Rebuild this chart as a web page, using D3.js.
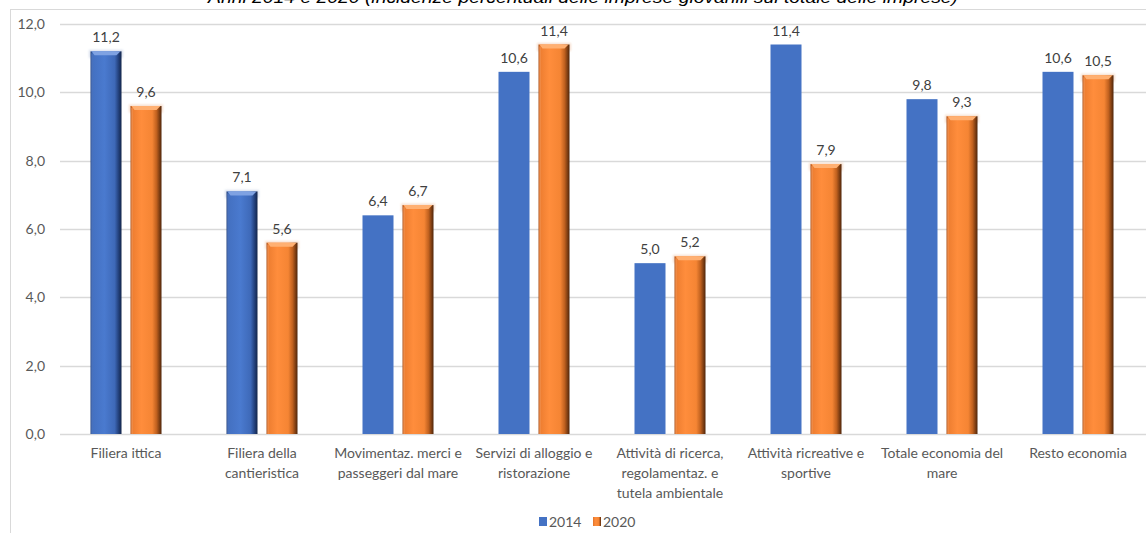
<!DOCTYPE html>
<html>
<head>
<meta charset="utf-8">
<script src="https://cdn.jsdelivr.net/npm/d3@7"></script>
<style>
  html, body { margin: 0; padding: 0; background: #fff; }
  svg { display: block; }
</style>
</head>
<body>
<svg id="chart" width="1146" height="533"></svg>
<script>
// Categories (label lines as shown under each group)
const categories = [
  "Filiera ittica",
  "Filiera della cantieristica",
  "Movimentaz. merci e passeggeri dal mare",
  "Servizi di alloggio e ristorazione",
  "Attività di ricerca, regolamentaz. e tutela ambientale",
  "Attività ricreative e sportive",
  "Totale economia del mare",
  "Resto economia"
];
const categoryLines = [
  ["Filiera ittica"],
  ["Filiera della", "cantieristica"],
  ["Movimentaz. merci e", "passeggeri dal mare"],
  ["Servizi di alloggio e", "ristorazione"],
  ["Attività di ricerca,", "regolamentaz. e", "tutela ambientale"],
  ["Attività ricreative e", "sportive"],
  ["Totale economia del", "mare"],
  ["Resto economia"]
];
const seriesNames = ["2014", "2020"];
const values2014 = [11.2, 7.1, 6.4, 10.6, 5.0, 11.4, 9.8, 10.6];
const values2020 = [9.6, 5.6, 6.7, 11.4, 5.2, 7.9, 9.3, 10.5];
const yTicks = [0, 2, 4, 6, 8, 10, 12];
const titleText = "Anni 2014 e 2020 (incidenze percentuali delle imprese giovanili sul totale delle imprese)";

// Bars in these groups get the bevelled 2014 style
const bevelled2014 = new Set(["Filiera ittica", "Filiera della cantieristica"]);

const svg = d3.select("#chart");
const FONT = "Lato, 'Liberation Sans', sans-serif";
const fmt = v => d3.format(".1f")(v).replace(".", ",");

// Gradients for the bevelled bars
const defs = svg.append("defs");
function hGrad(id, stops) {
  const g = defs.append("linearGradient").attr("id", id)
    .attr("x1", "0%").attr("x2", "100%").attr("y1", "0%").attr("y2", "0%");
  stops.forEach(([o, c]) => g.append("stop").attr("offset", o).attr("stop-color", c));
}
hGrad("gOrange", [["0%", "#a94f18"], ["7%", "#ee7e31"], ["35%", "#ff8d3c"], ["70%", "#f58534"], ["84%", "#c0611f"], ["100%", "#4f250a"]]);
hGrad("gBlue", [["0%", "#22407a"], ["9%", "#4471c2"], ["45%", "#4a7acf"], ["78%", "#3e69b8"], ["90%", "#24427e"], ["100%", "#13254a"]]);

const glow = defs.append("filter").attr("id", "soft").attr("x", "-30%").attr("y", "-30%").attr("width", "160%").attr("height", "160%");
glow.append("feGaussianBlur").attr("stdDeviation", 1.2);

// Chart frame
svg.append("rect")
  .attr("x", 10.5).attr("y", 9.5).attr("width", 1150).attr("height", 540)
  .attr("fill", "none").attr("stroke", "#d9d9d9").attr("stroke-width", 1);

// Title (sits at the top edge)
svg.append("text")
  .attr("x", 583).attr("y", 2.5)
  .attr("text-anchor", "middle")
  .attr("font-family", "'Liberation Sans', Arial, sans-serif")
  .attr("font-style", "italic")
  .attr("font-size", 16)
  .attr("fill", "#000")
  .attr("textLength", 750)
  .attr("lengthAdjust", "spacingAndGlyphs")
  .text(titleText);

// Scales
const x0 = d3.scaleBand().domain(categories).range([58, 1146]);
const x1 = d3.scaleBand().domain(seriesNames).range([0, x0.bandwidth()])
  .paddingInner(0.225).paddingOuter(0.8125);
const y = d3.scaleLinear().domain([0, 12]).range([434, 24]);

// Gridlines
svg.append("g").selectAll("line").data(yTicks).join("line")
  .attr("x1", 60).attr("x2", 1146)
  .attr("y1", d => Math.round(y(d)) + 0.5).attr("y2", d => Math.round(y(d)) + 0.5)
  .attr("stroke", "#d9d9d9").attr("stroke-width", 1.3);

// Y axis labels
const yAxis = d3.axisLeft(y).tickValues(yTicks).tickFormat(fmt).tickSize(0).tickPadding(0);
const yg = svg.append("g").attr("transform", "translate(45,0)").call(yAxis);
yg.select(".domain").remove();
yg.selectAll("text")
  .attr("font-family", FONT).attr("font-size", 14).attr("fill", "#595959");

// Bars
const rows = categories.map((c, i) => ({ cat: c, vals: [values2014[i], values2020[i]] }));
const groups = svg.append("g").selectAll("g").data(rows).join("g")
  .attr("transform", d => `translate(${x0(d.cat)},0)`);

groups.each(function (d) {
  const g = d3.select(this);
  seriesNames.forEach((s, si) => {
    const v = d.vals[si];
    const bx = x1(s), bw = x1.bandwidth();
    const by = y(v), bh = y(0) - y(v);
    const bevel = si === 1 || bevelled2014.has(d.cat);
    if (bevel) {
      // faint halo around the top of the bar
      g.append("rect")
        .attr("x", bx - 1.5).attr("y", by - 1.5).attr("width", bw + 3).attr("height", 8)
        .attr("fill", si === 1 ? "#f3d2bb" : "#c9d3e6").attr("opacity", 0.7)
        .attr("filter", "url(#soft)");
      g.append("rect")
        .attr("x", bx).attr("y", by).attr("width", bw).attr("height", bh)
        .attr("fill", si === 1 ? "url(#gOrange)" : "url(#gBlue)");
      // top bevel
      g.append("path")
        .attr("d", `M${bx + 1},${by} L${bx + bw - 1},${by} L${bx + bw - 5},${by + 4} L${bx + 4},${by + 4} Z`)
        .attr("fill", si === 1 ? "#ffb072" : "#7fa2e2");
      // left highlight edge
      g.append("rect")
        .attr("x", bx + 1).attr("y", by + 2).attr("width", 1).attr("height", Math.max(0, bh - 2))
        .attr("fill", si === 1 ? "#f6a064" : "#5f88d2").attr("opacity", 0.8);
    } else {
      g.append("rect")
        .attr("x", bx).attr("y", by).attr("width", bw).attr("height", bh)
        .attr("fill", "#4472c4");
    }
    // value label
    g.append("text")
      .attr("x", bx + bw / 2).attr("y", by - 9)
      .attr("text-anchor", "middle")
      .attr("font-family", FONT).attr("font-size", 14).attr("fill", "#404040")
      .text(fmt(v));
  });
});

// Category labels
const xl = svg.append("g").selectAll("text").data(categories).join("text")
  .attr("x", c => x0(c) + x0.bandwidth() / 2)
  .attr("y", 458)
  .attr("text-anchor", "middle")
  .attr("font-family", FONT).attr("font-size", 14).attr("fill", "#595959");
xl.each(function (c, i) {
  const t = d3.select(this);
  categoryLines[i].forEach((line, li) => {
    t.append("tspan").attr("x", x0(c) + x0.bandwidth() / 2).attr("dy", li === 0 ? 0 : 20).text(line);
  });
});

// Legend
const legend = svg.append("g").attr("transform", "translate(539,517)");
const legendItems = [
  { name: seriesNames[0], fill: "#4472c4", x: 0 },
  { name: seriesNames[1], fill: "url(#gOrange)", x: 54 }
];
legendItems.forEach(it => {
  legend.append("rect").attr("x", it.x).attr("y", 0).attr("width", 8).attr("height", 9).attr("fill", it.fill);
  legend.append("text").attr("x", it.x + 10).attr("y", 9.5)
    .attr("font-family", FONT).attr("font-size", 14).attr("fill", "#595959").text(it.name);
});
</script>
</body>
</html>
